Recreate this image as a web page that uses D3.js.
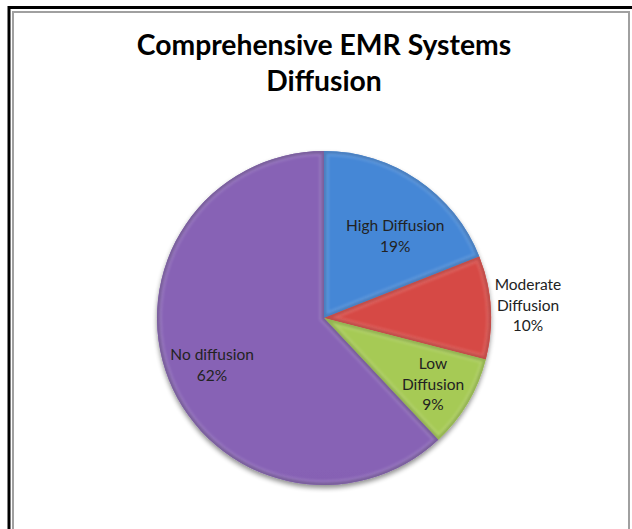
<!DOCTYPE html>
<html><head><meta charset="utf-8">
<script src="https://cdn.jsdelivr.net/npm/d3@7"></script>
<style>html,body{margin:0;padding:0;background:#fff;overflow:hidden}</style>
</head><body>
<script>
const title = ["Comprehensive EMR Systems", "Diffusion"];
const categories = ["High Diffusion", "Moderate Diffusion", "Low Diffusion", "No diffusion"];
const values = [19, 10, 9, 62];
const labelLines = [["High Diffusion", "19%"], ["Moderate", "Diffusion", "10%"], ["Low", "Diffusion", "9%"], ["No diffusion", "62%"]];
const colorsTop = ["#4587D6", "#D64A45", "#A6CA55", "#8762B5"];
const colorsBot = ["#2F6AB2", "#B5322F", "#82A536", "#644689"];

const W = 632, H = 529;
const cx = 324, cy = 318, R = 167;
const svg = d3.select("body").append("svg").attr("width", W).attr("height", H);
const defs = svg.append("defs");

// frame
svg.append("rect").attr("x", 9).attr("y", 7.5).attr("width", 700).attr("height", 700)
  .attr("fill", "none").attr("stroke", "#000").attr("stroke-width", 3);
svg.append("rect").attr("x", 13).attr("y", 12).attr("width", 616).attr("height", 700)
  .attr("fill", "none").attr("stroke", "#a0a0a0").attr("stroke-width", 2);

// title
const tg = svg.append("text").attr("text-anchor", "middle")
  .attr("font-family", "Lato, 'Open Sans', sans-serif").attr("font-weight", "bold")
  .attr("font-size", 28.3).attr("fill", "#000");
title.forEach((t, i) => tg.append("tspan").attr("x", cx).attr("y", 55 + i * 36).text(t));

// filters
const sh = defs.append("filter").attr("id", "shadow").attr("x", "-20%").attr("y", "-20%").attr("width", "140%").attr("height", "140%");
sh.append("feGaussianBlur").attr("in", "SourceAlpha").attr("stdDeviation", 2.5).attr("result", "b");
sh.append("feOffset").attr("in", "b").attr("dy", 3).attr("result", "o");
sh.append("feComponentTransfer").attr("in", "o").attr("result", "o2")
  .append("feFuncA").attr("type", "linear").attr("slope", 0.45);
const m = sh.append("feMerge");
m.append("feMergeNode").attr("in", "o2");
m.append("feMergeNode").attr("in", "SourceGraphic");

const bev = defs.append("filter").attr("id", "bevel");
bev.append("feGaussianBlur").attr("stdDeviation", 1.2);

categories.forEach((c, i) => {
  const g = defs.append("linearGradient").attr("id", "grad" + i)
    .attr("gradientUnits", "userSpaceOnUse")
    .attr("x1", cx).attr("y1", cy - R).attr("x2", cx).attr("y2", cy + R);
  g.append("stop").attr("offset", "0%").attr("stop-color", colorsTop[i]);
  g.append("stop").attr("offset", "100%").attr("stop-color", colorsBot[i]);
});

const pie = d3.pie().value(d => d).sort(null);
const arcs = pie(values);
const arc = d3.arc().innerRadius(0).outerRadius(R);
const pg = svg.append("g").attr("transform", `translate(${cx},${cy})`).attr("filter", "url(#shadow)");
pg.selectAll("path.slice").data(arcs).join("path").attr("class", "slice")
  .attr("d", arc).attr("fill", (d, i) => `url(#grad${i})`);
// bevel edges
const ig = svg.append("g").attr("transform", `translate(${cx},${cy})`);
arcs.forEach((d, i) => {
  const cp = defs.append("clipPath").attr("id", "clip" + i);
  cp.append("path").attr("d", arc(d));
  ig.append("path").attr("d", arc(d)).attr("clip-path", `url(#clip${i})`)
    .attr("fill", "none").attr("stroke", colorsBot[i]).attr("stroke-width", 5)
    .attr("stroke-opacity", 0.9).attr("filter", "url(#bevel)");
  ig.append("path").attr("d", arc(d)).attr("clip-path", `url(#clip${i})`)
    .attr("fill", "none").attr("stroke", "#fff").attr("stroke-width", 10)
    .attr("stroke-opacity", 0.12).attr("filter", "url(#bevel)");
});

// labels: radius fraction and angle nudge (degrees) per slice
const labelPos = [
  {r: 0.65, da: 6.8},
  {r: 1.224, da: 0},
  {r: 0.763, da: 0.6},
  {r: 0.727, da: -1.2}
];
const lineH = 20.5;
const lg = svg.append("g").attr("font-family", "Lato, 'Open Sans', sans-serif")
  .attr("font-size", 15.5).attr("fill", "#222").attr("text-anchor", "middle");
arcs.forEach((d, i) => {
  const a = (d.startAngle + d.endAngle) / 2 + labelPos[i].da * Math.PI / 180;
  const rr = R * labelPos[i].r;
  const x = cx + rr * Math.sin(a);
  const y = cy - rr * Math.cos(a);
  const n = labelLines[i].length;
  const t = lg.append("text");
  labelLines[i].forEach((s, k) => {
    t.append("tspan").attr("x", x).attr("y", y + (k - (n - 1) / 2) * lineH + 5.5).text(s);
  });
});
</script>
</body></html>
